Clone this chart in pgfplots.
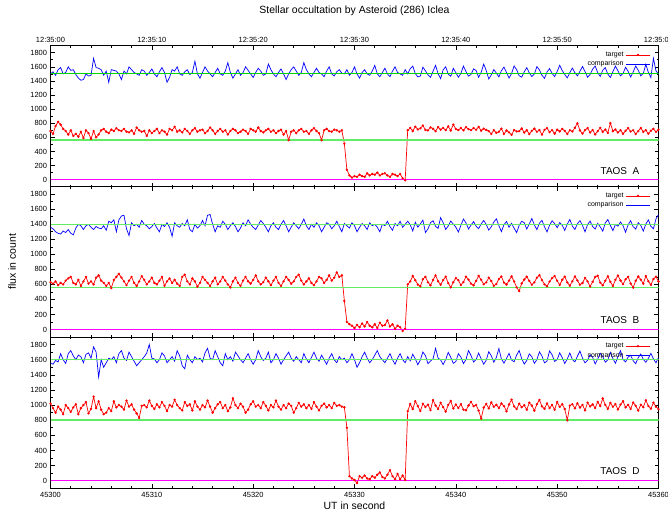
\documentclass[border=0pt]{standalone}
\usepackage{fontspec}
\setmainfont{Liberation Sans}
\usepackage{pgfplots}
\usepackage{pgfplotstable}
\pgfplotsset{compat=1.18}

\definecolor{tred}{RGB}{255,0,0}
\definecolor{tblue}{RGB}{0,0,255}
\definecolor{lgreen}{RGB}{100,235,100}
\definecolor{dgreen}{RGB}{0,215,0}
\definecolor{mag}{RGB}{255,0,255}

% seconds after 45300 UT; target / comparison counts for TAOS A, B, D
\pgfplotstableread{
t aT aC bT bC cT cC
0 690 1500 630 1360 1020 1560
0.25 650 1530 610 1340 960 1540
0.5 760 1480 640 1300 900 1590
0.75 820 1560 590 1280 980 1570
1 780 1590 620 1270 940 1680
1.25 720 1500 600 1310 880 1600
1.5 690 1520 650 1290 1000 1550
1.75 640 1600 680 1330 960 1680
2 700 1550 700 1280 910 1720
2.25 620 1560 620 1260 970 1650
2.5 650 1490 600 1350 1010 1600
2.75 610 1440 660 1400 880 1660
3 680 1410 580 1380 960 1640
3.25 590 1420 640 1330 1000 1560
3.5 700 1500 700 1380 1040 1670
3.75 660 1470 610 1400 890 1690
4 580 1480 640 1360 950 1620
4.25 690 1720 600 1330 1110 1770
4.5 600 1590 690 1370 960 1700
4.75 640 1580 720 1350 1050 1370
5 700 1560 650 1340 940 1600
5.25 720 1480 620 1380 880 1500
5.5 680 1540 580 1320 900 1560
5.75 660 1380 620 1440 960 1620
6 710 1560 550 1420 920 1600
6.25 690 1550 660 1460 1050 1640
6.5 730 1540 700 1300 970 1560
6.75 700 1500 740 1460 1000 1680
7 690 1420 690 1510 980 1720
7.25 720 1540 640 1520 940 1620
7.5 680 1500 590 1340 1060 1590
7.75 670 1600 650 1250 980 1700
8 700 1560 700 1420 1010 1640
8.25 650 1520 620 1380 940 1580
8.5 740 1500 580 1400 890 1520
8.75 700 1480 640 1360 830 1560
9 680 1560 710 1450 990 1600
9.25 690 1540 660 1400 1000 1640
9.5 620 1480 600 1380 970 1690
9.75 700 1520 640 1340 1060 1800
10 660 1570 690 1370 990 1620
10.25 690 1500 620 1410 950 1610
10.5 720 1460 600 1350 1010 1560
10.75 660 1530 650 1300 970 1600
11 700 1590 700 1400 1040 1690
11.25 680 1520 580 1370 990 1650
11.5 640 1380 640 1420 920 1560
11.75 720 1450 680 1360 1000 1600
12 700 1560 620 1240 980 1640
12.25 750 1540 660 1420 1070 1580
12.5 680 1600 610 1380 1000 1720
12.75 700 1500 580 1360 960 1650
13 670 1480 700 1410 930 1520
13.25 720 1530 730 1380 1040 1480
13.5 690 1560 640 1460 990 1660
13.75 650 1490 600 1330 1010 1600
14 700 1520 680 1300 930 1560
14.25 730 1680 640 1400 1050 1640
14.5 680 1500 570 1350 980 1600
14.75 700 1440 620 1380 940 1620
15 710 1520 700 1450 1000 1570
15.25 660 1600 660 1380 970 1690
15.5 690 1540 620 1520 1060 1750
15.75 740 1500 580 1530 980 1620
16 700 1460 640 1400 900 1600
16.25 650 1520 690 1300 960 1720
16.5 690 1580 600 1380 1010 1640
16.75 720 1500 640 1360 1040 1560
17 680 1480 700 1440 960 1520
17.25 700 1540 650 1400 1000 1680
17.5 640 1660 600 1330 920 1600
17.75 690 1520 560 1380 970 1640
18 720 1440 640 1420 1090 1580
18.25 700 1500 690 1370 1000 1700
18.5 660 1560 620 1300 960 1650
18.75 680 1480 580 1350 1020 1600
19 710 1520 650 1420 980 1560
19.25 690 1600 700 1380 900 1620
19.5 650 1550 640 1460 940 1680
19.75 720 1500 610 1400 1010 1600
20 700 1450 660 1360 1050 1540
20.25 680 1520 720 1330 980 1600
20.5 740 1580 640 1390 1000 1720
20.75 690 1540 600 1450 960 1640
21 670 1480 630 1410 1040 1590
21.25 700 1500 690 1360 990 1620
21.5 720 1640 640 1300 930 1700
21.75 680 1560 590 1380 1000 1560
22 700 1500 650 1420 970 1600
22.25 660 1460 700 1360 1060 1680
22.5 690 1520 620 1330 980 1620
22.75 710 1570 580 1400 940 1540
23 640 1500 640 1450 1000 1600
23.25 690 1420 700 1380 960 1650
23.5 560 1500 660 1300 1020 1700
23.75 680 1560 610 1360 990 1620
24 700 1600 640 1420 900 1580
24.25 660 1540 700 1380 960 1640
24.5 700 1480 730 1340 1030 1600
24.75 720 1520 650 1400 980 1560
25 680 1660 600 1470 1010 1680
25.25 690 1560 640 1380 960 1610
25.5 650 1500 680 1330 1000 1560
25.75 700 1460 620 1400 950 1630
26 730 1520 590 1360 1040 1700
26.25 690 1580 640 1420 980 1620
26.5 660 1520 700 1380 930 1580
26.75 560 1500 680 1300 990 1660
27 700 1460 620 1360 1020 1600
27.25 720 1540 660 1420 970 1540
27.5 690 1600 720 1400 1000 1620
27.75 680 1500 650 1340 960 1680
28 710 1470 690 1380 1030 1600
28.25 700 1530 760 1440 990 1560
28.5 680 1560 700 1370 1000 1640
28.75 700 1510 720 1300 980 1600
29 510 1500 380 1410 970 1620
29.25 140 1560 100 1380 700 1560
29.5 60 1480 70 1350 60 1600
29.75 30 1520 50 1420 30 1680
30 50 1600 20 1380 10 1600
30.25 40 1500 60 1300 -30 1500
30.5 70 1440 30 1360 60 1560
30.75 50 1520 80 1410 40 1640
31 40 1560 40 1380 70 1700
31.25 90 1500 100 1330 30 1620
31.5 60 1480 50 1420 20 1560
31.75 80 1540 30 1380 60 1600
32 70 1620 70 1400 40 1660
32.25 100 1500 20 1360 80 1720
32.5 60 1460 90 1300 110 1640
32.75 80 1520 50 1400 50 1600
33 90 1580 60 1380 30 1560
33.25 60 1500 120 1440 80 1620
33.5 40 1460 40 1370 140 1680
33.75 80 1540 70 1320 60 1600
34 70 1600 10 1410 20 1540
34.25 50 1520 50 1380 90 1620
34.5 80 1500 30 1440 20 1680
34.75 20 1480 -20 1360 70 1600
35 -10 1560 10 1400 10 1560
35.25 700 1500 600 1440 920 1640
35.5 735 1575 640 1395 1015 1585
35.75 690 1610 712 1310 948 1672
36 752 1505 655 1428 1052 1611
36.25 712 1458 598 1362 987 1533
36.5 728 1470 575 1406 922 1598
36.75 768 1596 668 1455 1018 1702
37 705 1544 701 1290 975 1655
37.25 698 1487 628 1338 1006 1547
37.5 741 1452 589 1421 934 1583
37.75 722 1538 659 1447 1066 1612
38 688 1621 720 1372 995 1749
38.25 745 1502 641 1346 948 1621
38.5 709 1433 596 1489 1031 1598
38.75 733 1558 658 1420 973 1536
39 702 1601 703 1331 914 1602
39.25 756 1497 617 1378 1002 1698
39.5 697 1466 560 1443 1054 1632
39.75 781 1579 629 1402 955 1551
40 719 1518 684 1361 1008 1577
40.25 703 1452 655 1296 962 1679
40.5 732 1506 592 1385 1012 1634
40.75 699 1611 631 1470 941 1548
41 744 1534 702 1418 931 1602
41.25 716 1467 664 1337 995 1721
41.5 703 1493 610 1389 1043 1655
41.75 731 1571 588 1436 986 1570
42 708 1548 647 1375 1001 1603
42.25 748 1451 713 1342 928 1688
42.5 695 1522 661 1405 822 1612
42.75 724 1639 603 1451 968 1541
43 705 1547 627 1398 1015 1594
43.25 688 1428 689 1322 957 1706
43.5 649 1486 644 1367 1036 1652
43.75 702 1562 581 1429 979 1566
44 664 1511 606 1473 1003 1631
44.25 679 1458 672 1381 961 1748
44.5 723 1545 705 1302 1022 1607
44.75 648 1597 623 1394 987 1555
45 697 1520 598 1437 919 1618
45.25 671 1441 651 1360 1008 1684
45.5 636 1506 707 1412 1071 1595
45.75 703 1612 639 1348 982 1573
46 684 1560 562 1289 948 1660
46.25 688 1474 511 1386 1019 1721
46.5 726 1453 613 1440 972 1614
46.75 668 1529 665 1421 998 1542
47 701 1588 702 1337 939 1589
47.25 647 1515 646 1403 1031 1677
47.5 692 1462 595 1478 993 1638
47.75 724 1498 629 1392 927 1552
48 679 1604 689 1328 1012 1601
48.25 703 1557 723 1415 1068 1703
48.5 638 1481 658 1452 984 1649
48.75 706 1436 601 1366 952 1558
49 731 1527 575 1298 1023 1583
49.25 675 1575 637 1387 961 1716
49.5 702 1508 684 1446 1002 1664
49.75 653 1461 712 1411 938 1576
50 709 1534 648 1354 1042 1601
50.25 683 1622 593 1423 977 1692
50.5 720 1547 662 1386 1011 1627
50.75 691 1492 704 1317 948 1549
51 648 1444 626 1402 800 1612
51.25 701 1519 583 1464 993 1688
51.5 684 1583 641 1375 1012 1603
51.75 735 1516 706 1331 957 1571
52 799 1472 652 1407 1024 1647
52.25 698 1538 596 1449 968 1714
52.5 652 1605 618 1383 1003 1622
52.75 704 1531 687 1299 931 1558
53 731 1453 640 1396 1032 1593
53.25 669 1491 572 1442 982 1666
53.5 705 1567 634 1370 1009 1632
53.75 642 1612 699 1336 962 1544
54 688 1518 715 1412 1041 1609
54.25 734 1464 624 1366 988 1685
54.5 679 1552 587 1307 1087 1643
54.75 711 1588 650 1419 1002 1567
55 663 1497 708 1463 951 1598
55.25 802 1449 634 1384 1029 1697
55.5 688 1532 579 1316 978 1615
55.75 711 1611 661 1398 1013 1552
56 669 1543 718 1375 942 1641
56.25 703 1472 652 1431 1006 1719
56.5 651 1506 603 1382 1051 1602
56.75 693 1594 667 1293 969 1571
57 731 1538 702 1392 1003 1635
57.25 682 1456 612 1447 948 1658
57.5 701 1527 558 1368 1034 1586
57.75 648 1612 648 1335 991 1547
58 689 1551 705 1421 927 1627
58.25 732 1473 663 1386 1004 1675
58.5 679 1507 609 1309 972 1604
58.75 702 1634 711 1404 1063 1566
59 651 1522 642 1458 988 1619
59.25 693 1448 594 1372 951 1683
59.5 721 1721 671 1340 1032 1611
59.75 677 1543 703 1471 979 1559
60 709 1496 638 1530 946 1628
}\flux

\pgfplotsset{
  panel/.style={
    scale only axis, width=608bp,
    xmin=0, xmax=60, ymin=-100, ymax=1900,
    xtick={0,10,...,60}, minor x tick num=4,
    ytick={0,200,...,1800}, minor y tick num=1,
    tick align=inside, xtick pos=both, ytick pos=both,
    major tick length=4bp, minor tick length=2bp,
    axis line style={line width=0.9bp},
    every tick/.style={black, line width=0.6bp},
    ticklabel style={font=\fontsize{7.5}{8}\selectfont},
    /pgf/number format/assume math mode=true,
    /pgf/number format/1000 sep={},
    legend style={at={(rel axis cs:1,1)}, anchor=north east,
      xshift=-8bp, yshift=-4bp, draw=none, fill=none,
      font=\fontsize{7}{7}\selectfont, row sep=-1bp, inner sep=0pt},
    legend cell align=right,
    legend plot pos=right,
    legend image code/.code={\draw[mark repeat=2,mark phase=2,##1]
      plot coordinates {(0bp,0bp) (12bp,0bp) (24bp,0bp)};},
  },
  tgt/.style={tred, line width=0.7bp, mark=*, mark size=0.8bp},
  cmp/.style={tblue, line width=0.7bp, no marks},
}

\begin{document}
\begin{tikzpicture}
\path[use as bounding box] (0,0) rectangle (668bp,514bp);

% TAOS A
\begin{axis}[panel, at={(50.5bp,327.3bp)}, anchor=south west, height=141bp,
  xticklabel pos=upper,
  xticklabels={12:35:00,12:35:10,12:35:20,12:35:30,12:35:40,12:35:50,12:35:00},
  title={Stellar occultation by Asteroid (286) Iclea},
  title style={at={(0.5,1)}, anchor=center, yshift=28.5bp,
    font=\fontsize{10.5}{12}\selectfont}]
  \addplot[tgt] table[x=t, y=aT] {\flux};
  \addlegendentry{target}
  \addplot[cmp] table[x=t, y=aC] {\flux};
  \addlegendentry{comparison}
  \addplot[dgreen, line width=0.9bp, forget plot] coordinates {(0,1500) (60,1500)};
  \addplot[lgreen, line width=1.6bp, forget plot] coordinates {(0,560) (60,560)};
  \addplot[mag, line width=1.1bp, forget plot] coordinates {(0,0) (60,0)};
  \node[font=\fontsize{10}{12}\selectfont] at (axis cs:56.2,125) {TAOS\ \ A};
\end{axis}

% TAOS B
\begin{axis}[panel, at={(50.5bp,177bp)}, anchor=south west, height=150.3bp,
  xticklabels={},
  ylabel={flux in count},
  ylabel style={at={(axis description cs:-0.0633,0.5)}, anchor=center,
    font=\fontsize{10.5}{12}\selectfont}]
  \addplot[tgt] table[x=t, y=bT] {\flux};
  \addlegendentry{target}
  \addplot[cmp] table[x=t, y=bC] {\flux};
  \addlegendentry{comparison}
  \addplot[lgreen, line width=1.5bp, forget plot] coordinates {(0,1400) (60,1400)};
  \addplot[lgreen, line width=1.6bp, forget plot] coordinates {(0,560) (60,560)};
  \addplot[mag, line width=1.1bp, forget plot] coordinates {(0,0) (60,0)};
  \node[font=\fontsize{10}{12}\selectfont] at (axis cs:56.2,130) {TAOS\ \ B};
\end{axis}

% TAOS D
\begin{axis}[panel, at={(50.5bp,25.7bp)}, anchor=south west, height=151.3bp,
  xticklabels={45300,45310,45320,45330,45340,45350,45360},
  xlabel={UT in second},
  xlabel style={at={(axis description cs:0.5,0)}, anchor=center,
    yshift=-17.7bp, font=\fontsize{10.5}{12}\selectfont}]
  \addplot[tgt] table[x=t, y=cT] {\flux};
  \addlegendentry{target}
  \addplot[cmp] table[x=t, y=cC] {\flux};
  \addlegendentry{comparison}
  \addplot[lgreen, line width=1.6bp, forget plot] coordinates {(0,1600) (60,1600)};
  \addplot[lgreen, line width=1.6bp, forget plot] coordinates {(0,800) (60,800)};
  \addplot[mag, line width=1.1bp, forget plot] coordinates {(0,0) (60,0)};
  \node[font=\fontsize{10}{12}\selectfont] at (axis cs:56.2,127) {TAOS\ \ D};
\end{axis}
\end{tikzpicture}
\end{document}
